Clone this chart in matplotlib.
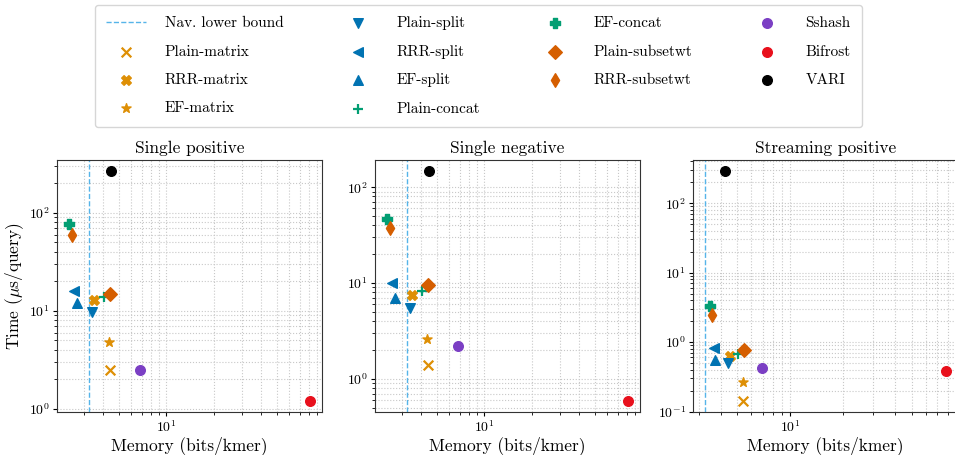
import matplotlib
matplotlib.use("Agg")
import matplotlib.pyplot as plt

plt.rcParams['font.family'] = 'serif'
plt.rcParams['font.serif'] = ['cmr10']
plt.rcParams['mathtext.fontset'] = 'cm'
plt.rcParams['axes.formatter.use_mathtext'] = True
plt.rcParams['axes.unicode_minus'] = False

titles = ["Single positive", "Single negative", "Streaming positive"]
methods = ["Plain-matrix", "RRR-matrix", "EF-matrix",
           "Plain-split", "RRR-split", "EF-split",
           "Plain-concat", "EF-concat",
           "Plain-subsetwt", "RRR-subsetwt",
           "Sshash", "Bifrost", "VARI"]
colors = ["#de8f05", "#de8f05", "#de8f05",
          "#0173b2", "#0173b2", "#0173b2",
          "#029e73", "#029e73",
          "#d55e00", "#d55e00",
          "#7b3fc4", "#e8101c", "#000000"]
markers = ["x", "X", "*", "v", "<", "^", "+", "P", "D", "d", "o", "o", "o"]

nav_lower_bound = 3.26

# memory (bits/kmer) per panel
mem_single = [4.40, 3.50, 4.36, 3.38, 2.61, 2.73, 4.04, 2.43, 4.38, 2.55, 6.87, 81.0, 4.50]
mem_stream = [5.40, 4.52, 5.40, 4.40, 3.66, 3.74, 5.02, 3.46, 5.44, 3.56, 6.87, 78.3, 4.27]
memory = [mem_single, mem_single, mem_stream]

# time (us/query) per panel
time_single_pos = [2.52, 12.8, 4.77, 9.84, 15.8, 12.0, 14.0, 77.4, 14.8, 58.8, 2.48, 1.22, 264]
time_single_neg = [1.40, 7.41, 2.63, 5.47, 10.1, 6.96, 8.17, 46.8, 9.6, 37.7, 2.19, 0.593, 146]
time_stream_pos = [0.144, 0.621, 0.270, 0.498, 0.819, 0.557, 0.680, 3.28, 0.776, 2.43, 0.427, 0.381, 286]
times = [time_single_pos, time_single_neg, time_stream_pos]

W, H = 955, 455
fig = plt.figure(figsize=(W / 100, H / 100), dpi=100)
lefts = [57, 375, 693]
aw = 265
top, bottom = 160, 412
axes = []
for i in range(3):
    ax = fig.add_axes([lefts[i] / W, (H - bottom) / H, aw / W, (bottom - top) / H])
    axes.append(ax)
    ax.set_xscale('log')
    ax.set_yscale('log')
    ax.axvline(nav_lower_bound, color="#56b4e9", ls="--", lw=1.0, label="Nav. lower bound", zorder=1)
    for m, c, mk, x, y in zip(methods, colors, markers, memory[i], times[i]):
        kw = dict(s=48, zorder=3)
        if mk in ("x", "+"):
            kw['linewidths'] = 1.6
        ax.scatter([x], [y], color=c, marker=mk, label=m, **kw)
    ax.grid(True, which='both', ls=':', color='#c8c8c8', lw=0.8, zorder=0)
    ax.set_axisbelow(True)
    ax.set_title(titles[i], fontsize=12.5, pad=5)
    ax.set_xlabel("Memory (bits/kmer)", fontsize=12.5, labelpad=1)
    ax.tick_params(which='major', labelsize=10, length=3, pad=2)
    ax.tick_params(which='minor', length=2)
    for sp in ax.spines.values():
        sp.set_color('#333333')
axes[0].set_ylabel(r"Time ($\mu$s/query)", fontsize=12.5, labelpad=2)

handles, labels = axes[0].get_legend_handles_labels()
fig.legend(handles, labels, ncol=4, loc='upper left', mode='expand',
           bbox_to_anchor=(95 / W, 1 - 5 / H, 767 / W, 0), fontsize=11,
           labelspacing=0.95, handlelength=2.6, handletextpad=1.2,
           borderpad=0.75, borderaxespad=0.0,
           frameon=True, edgecolor='#cccccc', fancybox=True)

fig.savefig("out.png", dpi=100)
